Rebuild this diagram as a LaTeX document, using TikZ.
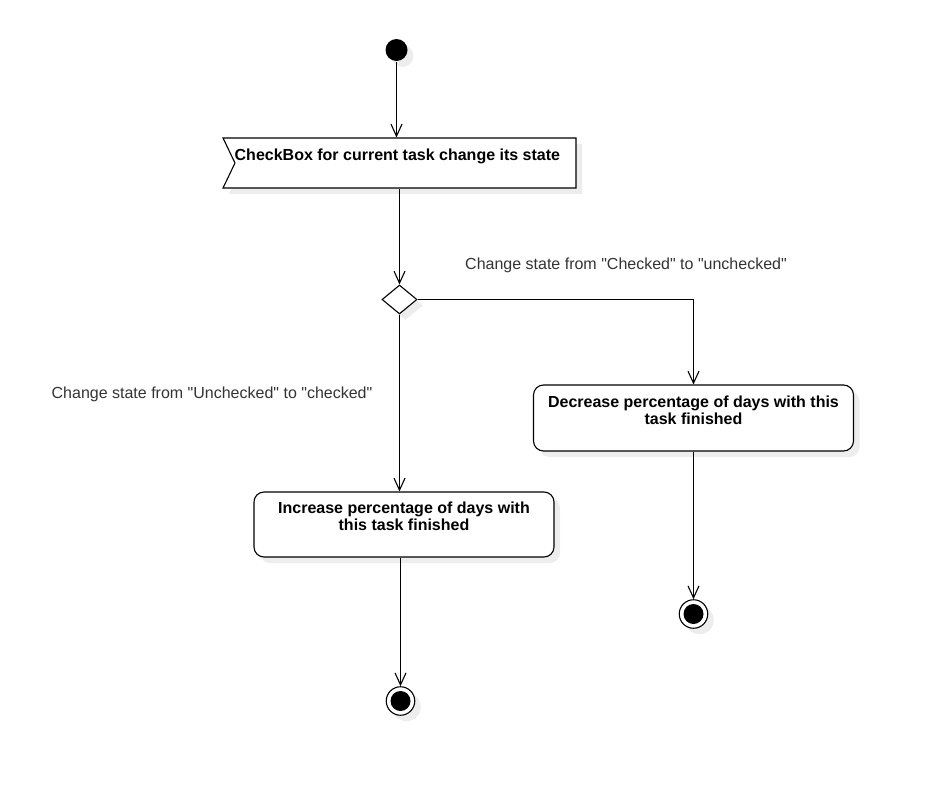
\documentclass[tikz,border=0pt]{standalone}
\usepackage{fontspec}
\setmainfont{Liberation Sans}[Ligatures=TeXOff]
\usetikzlibrary{arrows.meta,shapes.geometric,shapes.symbols,shadows,positioning,calc}

\begin{document}
\begin{tikzpicture}[x=1pt, y=-1pt, line width=1.1pt,
        >={Straight Barb[length=12pt,width=11pt]},
        shade/.style={drop shadow={shadow xshift=6pt, shadow yshift=-6pt, fill=black!7, opacity=1}},
        boxtext/.style={anchor=north, inner sep=0pt, align=center, font=\bfseries\fontsize{16}{17}\selectfont},
        elabel/.style={inner sep=0pt, text=black!80, font=\fontsize{16}{18}\selectfont}]
        \tikzstyle{initst}=[shape=circle, fill=black, minimum size=22pt, inner sep=0pt, shade]
        \tikzstyle{finalst}=[shape=circle, draw, fill=white, minimum size=28.5pt, inner sep=0pt, shade,
                path picture={\fill[black] (path picture bounding box.center) circle (10pt);}]
        \tikzstyle{event}=[shape=signal, signal to=nowhere, signal from=west, signal pointer angle=128.8,
                draw, fill=white, minimum width=353pt, minimum height=50pt, inner sep=0pt, shade]
        \tikzstyle{action}=[shape=rectangle, rounded corners=10pt, draw, fill=white, inner sep=0pt, shade]
        \tikzstyle{choice}=[shape=diamond, draw, fill=white, minimum width=35pt, minimum height=29pt, inner sep=0pt, shade]
        \useasboundingbox (0,0) rectangle (937,787);

        % nodes
        \node[initst] (start) at (396.5,50) {};
        \node[event, label={[boxtext, anchor=north west, xshift=12pt, yshift=-11pt]north west:CheckBox for current task change its state}]
                (evt) at (405.5,163) {};
        \node[choice] (dec) at (399.5,299.5) {};
        \node[action, minimum width=300pt, minimum height=65pt,
                label={[boxtext, yshift=-10pt]north:Increase percentage of days with\\this task finished}]
                (inc) at (404,524.5) {};
        \node[action, minimum width=320pt, minimum height=66pt,
                label={[boxtext, yshift=-11pt]north:Decrease percentage of days with this\\task finished}]
                (decr) at (693.5,418) {};
        \node[finalst] (endinc) at (400.5,701) {};
        \node[finalst] (enddecr) at (693.5,614) {};

        % guard labels
        \node[elabel] (toun) at (626,265) {Change state from "Checked" to "unchecked"};
        \node[elabel] (tochk) at (212,394) {Change state from "Unchecked" to "checked"};

        % flows
        \draw[->] (start) -- (start |- evt.north);
        \draw[->] (dec |- evt.south) -- (dec.north);
        \draw[->] (dec.east) -| (decr.north);
        \draw[->] (dec.south) -- (dec.south |- inc.north);
        \draw[->] (inc.south -| endinc) -- (endinc.north);
        \draw[->] (decr.south -| enddecr) -- (enddecr.north);
\end{tikzpicture}
\end{document}
